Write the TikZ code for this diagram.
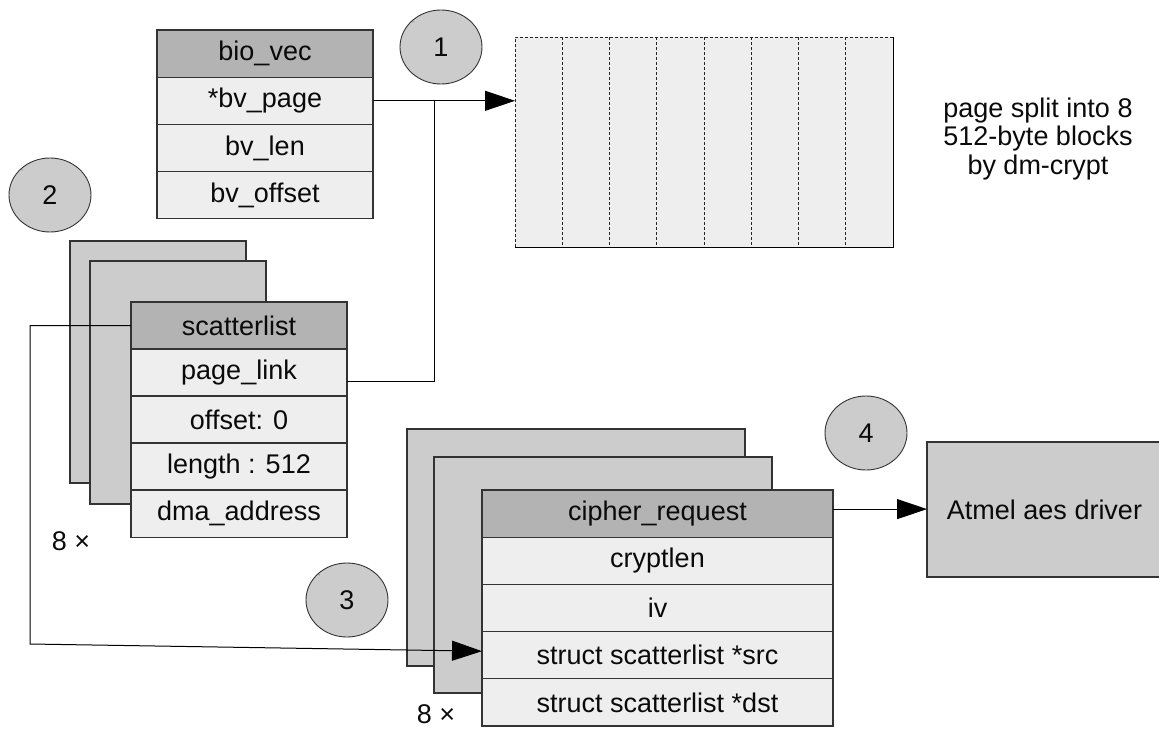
\documentclass[tikz,border=0pt]{standalone}
\usepackage{fontspec}
\setmainfont{Liberation Sans}
\usetikzlibrary{arrows.meta,shapes.geometric}

\definecolor{hdr}{HTML}{B3B3B3}
\definecolor{fld}{HTML}{EEEEEE}
\definecolor{bk}{HTML}{CCCCCC}
\definecolor{edge}{HTML}{333333}
\definecolor{ink}{HTML}{0A0A0A}

\begin{document}
\begin{tikzpicture}[x=1pt,y=-1pt,
  every node/.style={font=\fontsize{27}{28.5}\selectfont, text=ink, inner sep=0pt, outer sep=0pt},
  cellbase/.style={draw=edge, line width=1.2pt, minimum height=47.2pt, anchor=north west},
  hdrcell/.style={cellbase, fill=hdr},
  fldcell/.style={cellbase, fill=fld},
  backsheet/.style={draw=edge, line width=1.2pt, fill=bk, anchor=north west},
  badge/.style={ellipse, draw=edge, fill=bk, line width=0.9pt, minimum width=82pt, minimum height=74pt},
  link/.style={draw=black, line width=1pt},
  tip/.style={-{Triangle[length=30pt,width=20pt]}},
  cornerdot/.style={circle, fill=gray, minimum size=1.6pt},
  blockdiv/.style={draw=black!85, line width=1pt, dash pattern=on 3pt off 2pt}
]
\useasboundingbox (0,0) rectangle (1159,731);

% ---- bio_vec ----
\node[hdrcell, minimum width=216pt] (bvhdr)    at (157,30)    {bio\_vec};
\node[fldcell, minimum width=216pt] (bvpage)   at (157,77.2)  {*bv\_page};
\node[fldcell, minimum width=216pt] (bvlen)    at (157,124.4) {bv\_len};
\node[fldcell, minimum width=216pt] (bvoff)    at (157,171.6) {bv\_offset};

% ---- page split into blocks ----
\node[fill=fld, anchor=north west, minimum width=378pt, minimum height=210pt] (page) at (515,37) {};
\foreach \k in {1,...,7}
  \draw[blockdiv] (515+47.25*\k,37) -- (515+47.25*\k,247);
\draw[blockdiv] (page.south west) -- (page.north west) -- (page.north east);
\draw[draw=black, line width=1pt] (page.north east) -- (page.south east) -- (page.south west);
\node[align=center] (note) at (1038,139) {page split into 8\\512-byte blocks\\by dm-crypt};

% ---- scatterlist stack ----
\node[backsheet, minimum width=176pt, minimum height=242pt] (sgback1) at (70,241) {};
\node[backsheet, minimum width=176pt, minimum height=243pt] (sgback2) at (90,261) {};
\node[hdrcell, minimum width=216pt] (sghdr)   at (131,302) {scatterlist};
\node[fldcell, minimum width=216pt] (sglink)  at (131,349) {page\_link};
\node[fldcell, minimum width=216pt] (sgoff)   at (131,396) {offset: 0};
\node[fldcell, minimum width=216pt] (sglen)   at (131,443) {length : 512};
\node[fldcell, minimum width=216pt] (sgdma)   at (131,490) {dma\_address};
\node (sgcount) at (71,541.5) {8 ×};

% ---- cipher_request stack ----
\node[backsheet, minimum width=338pt, minimum height=237pt] (crback1) at (407,429) {};
\node[backsheet, minimum width=338pt, minimum height=236pt] (crback2) at (434,457) {};
\node[hdrcell, minimum width=351pt] (crhdr) at (482,490)   {cipher\_request};
\node[fldcell, minimum width=351pt] (crlen) at (482,537.2) {cryptlen};
\node[fldcell, minimum width=351pt] (criv)  at (482,584.4) {iv};
\node[fldcell, minimum width=351pt] (crsrc) at (482,631.6) {struct scatterlist *src};
\node[fldcell, minimum width=351pt] (crdst) at (482,678.8) {struct scatterlist *dst};
\node (crcount) at (436,714) {8 ×};

% ---- driver ----
\node[backsheet, minimum width=236pt, minimum height=135pt] (aes) at (927,442) {};
\node (aestext) at (1044.5,510) {Atmel aes driver};

% ---- step badges ----
\node[badge] (s1) at (441,47)  {1};
\node[badge] (s2) at (50,195)  {2};
\node[badge] (s3) at (347,600) {3};
\node[badge] (s4) at (866,433) {4};
\foreach \b in {s1,s2,s3,s4} {
  \node[cornerdot] at ([shift={(1pt,1pt)}]\b.south east) {};
}
\node[cornerdot] at ([shift={(1pt,-1pt)}]s2.north west) {};
\node[cornerdot] at ([shift={(1pt,-1pt)}]s3.north west) {};
\node[cornerdot] at ([shift={(1pt,-1pt)}]s1.north west) {};

% ---- connectors ----
\coordinate (jn) at (434,101);
\coordinate (lowcorner) at (30,644);
\draw[link, tip] (bvpage.east) -- (bvpage.east -| page.west);
\draw[link] ([yshift=-9pt]sglink.east) -| (jn);
\draw[link, tip] (sghdr.west) -| (lowcorner) -- ([yshift=4pt]crsrc.west);
\draw[link, tip] ([yshift=4.5pt]crhdr.east) -- ([yshift=4.5pt]crhdr.east -| aes.west);
\end{tikzpicture}
\end{document}
